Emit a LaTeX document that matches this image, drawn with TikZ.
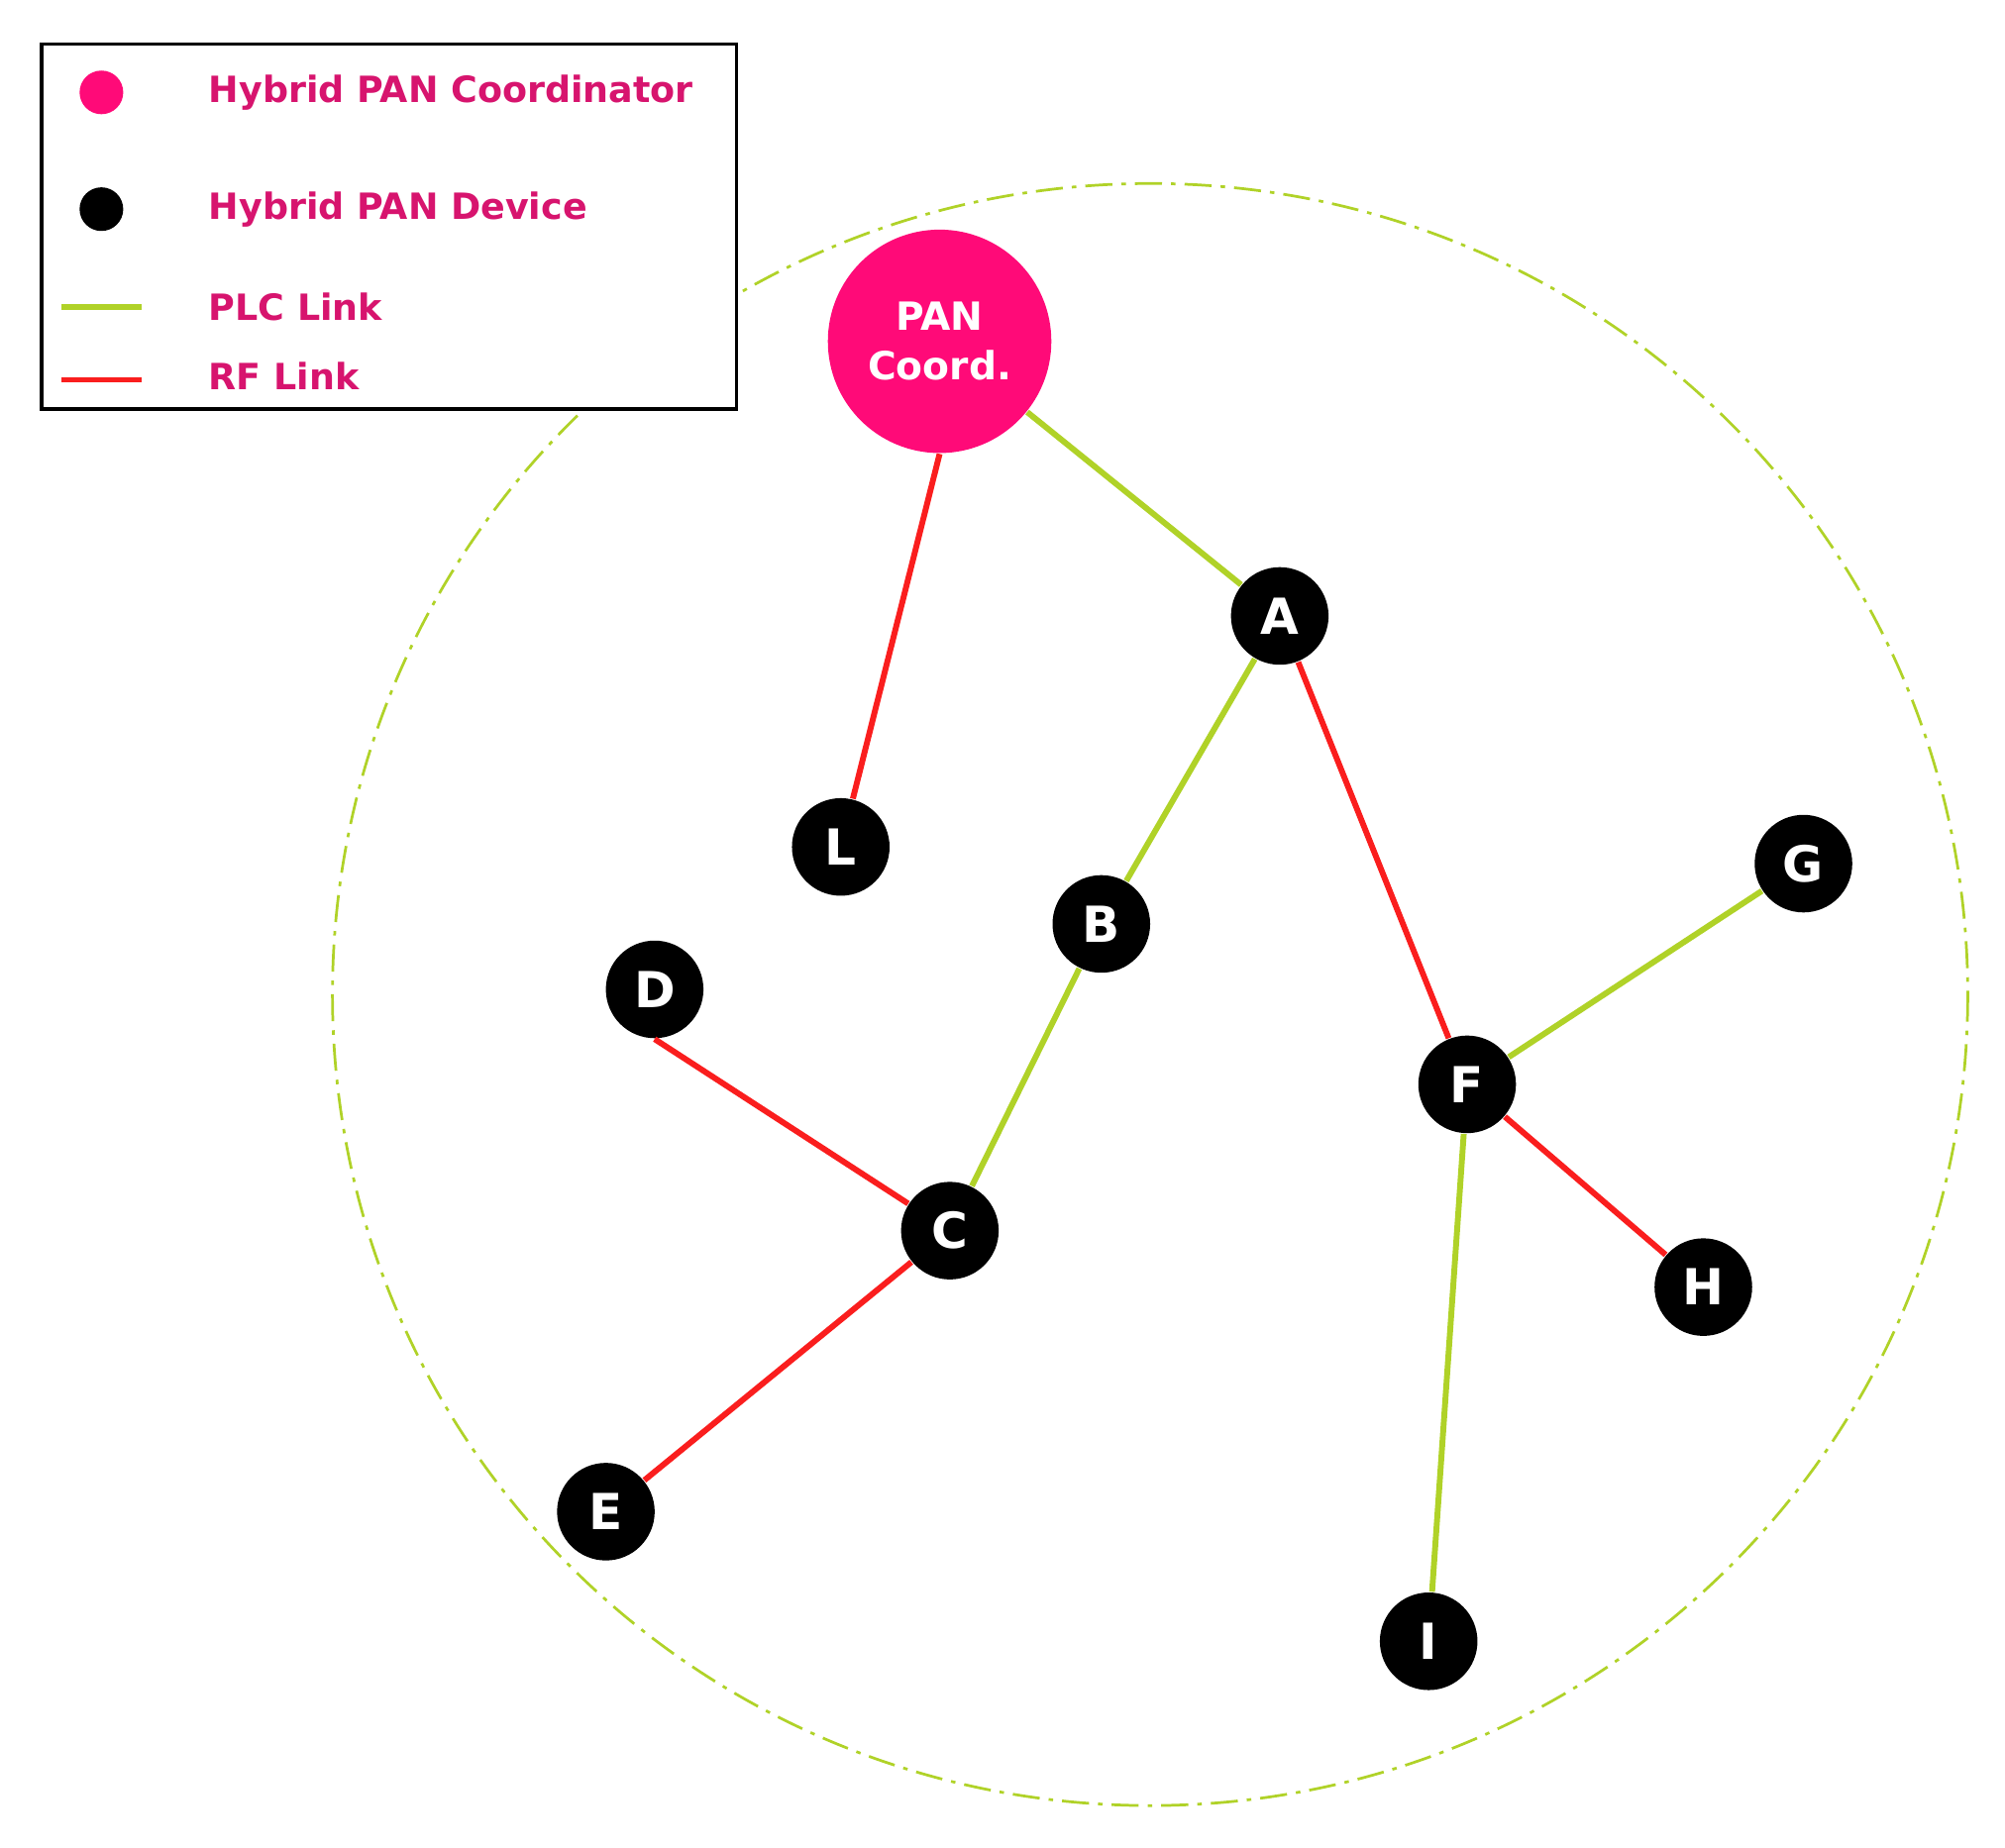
\documentclass[tikz,border=0pt]{standalone}
\usepackage{fontspec}
\setmainfont{DejaVu Sans}
\begin{document}
\begin{tikzpicture}[x=0.01cm,y=-0.01cm,
  dev/.style={circle,fill=black,minimum size=0.76cm,inner sep=0pt,text=white,font=\fontsize{11}{12}\selectfont\bfseries},
  plc/.style={draw=plcgreen,line width=1.3pt},
  rf/.style={draw=rfred,line width=1.3pt},
  leg/.style={anchor=west,text=legpink,font=\fontsize{8}{9}\selectfont\bfseries,inner sep=0pt}]
\definecolor{plcgreen}{RGB}{176,210,40}
\definecolor{rfred}{RGB}{250,30,30}
\definecolor{coordpink}{RGB}{255,10,120}
\definecolor{legpink}{RGB}{215,20,110}
\useasboundingbox (0,0) rectangle (1562,1440);
\draw[plcgreen,line width=0.6pt,dash pattern=on 6pt off 2pt on 1pt off 2pt] (896,775) ellipse [x radius=637,y radius=632];
\node[circle,fill=coordpink,minimum size=1.74cm,inner sep=0pt,text=white,align=center,font=\fontsize{8.6}{11}\selectfont\bfseries] (P) at (732,266) {PAN\\Coord.};
\node[dev] (A) at (997,480) {A};
\node[dev] (L) at (655,660) {L};
\node[dev] (B) at (858,720) {B};
\node[dev] (D) at (510,771) {D};
\node[dev] (C) at (740,959) {C};
\node[dev] (E) at (472,1178) {E};
\node[dev] (F) at (1143,845) {F};
\node[dev] (G) at (1405,673) {G};
\node[dev] (H) at (1327,1003) {H};
\node[dev] (I) at (1113,1279) {I};
\begin{scope}[on background layer/.style={}]
\end{scope}
\draw[plc] (P) -- (A);
\draw[rf] (P.south) -- (L);
\draw[plc] (A) -- (B);
\draw[rf] (A) -- (F);
\draw[plc] (B) -- (C);
\draw[rf] (D.south) -- (C);
\draw[rf] (C) -- (E);
\draw[plc] (F) -- (G);
\draw[rf] (F) -- (H);
\draw[plc] (F) -- (I);
% legend
\node[draw=black,fill=white,line width=0.8pt,minimum width=5.41cm,minimum height=2.84cm,anchor=north west,inner sep=0pt] (box) at (31,33) {};
\node[circle,fill=coordpink,minimum size=0.34cm,inner sep=0pt] (l1) at (79,72) {};
\node[circle,fill=black,minimum size=0.34cm,inner sep=0pt] (l2) at (79,163) {};
\coordinate (g1) at (48,239); \coordinate (g2) at (110,239);
\coordinate (r1) at (48,296); \coordinate (r2) at (110,296);
\draw[plc] (g1) -- (g2);
\draw[rf] (r1) -- (r2);
\node[leg] (t1) at (162,72) {Hybrid PAN Coordinator};
\node[leg] (t2) at (162,163) {Hybrid PAN Device};
\node[leg] (t3) at (162,239) {PLC Link};
\node[leg] (t4) at (162,293) {RF Link};
\end{tikzpicture}
\end{document}
